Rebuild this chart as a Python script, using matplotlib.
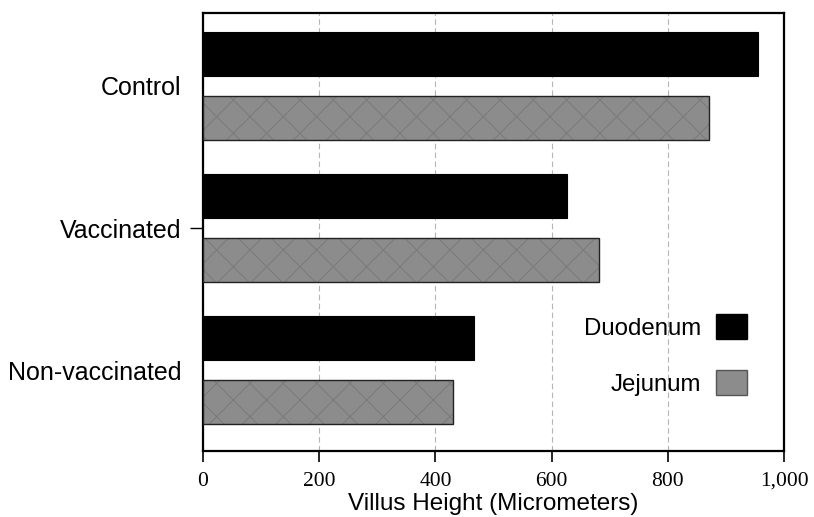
import matplotlib
matplotlib.use("Agg")
import matplotlib.pyplot as plt
from matplotlib.patches import Patch
import numpy as np

groups = ["Control", "Vaccinated", "Non-vaccinated"]
duodenum = [956, 626, 466]
jejunum = [871, 682, 431]
xticks = [0, 200, 400, 600, 800, 1000]
xticklabels = ["0", "200", "400", "600", "800", "1,000"]

SANS = ["Liberation Sans", "DejaVu Sans"]
SERIF = ["Liberation Serif", "DejaVu Serif"]

plt.rcParams["hatch.linewidth"] = 0.7

fig = plt.figure(figsize=(8.14, 5.17), dpi=100)
ax = fig.add_axes([203/814, 1-450.7/517, (784-203)/814, (450.7-12.7)/517])

y = np.arange(len(groups))
h = 0.31
off = 0.225
ax.barh(y - off, duodenum, height=h, color="black", edgecolor="black", lw=0.8, zorder=3)
ax.barh(y + off, jejunum, height=h, color="#8c8c8c", edgecolor="#7a7a7a", hatch="x", lw=0, zorder=3)
ax.barh(y + off, jejunum, height=h, color="none", edgecolor="#222222", lw=1.0, zorder=4)

ax.set_xlim(0, 1000)
ax.set_ylim(2.568, -0.516)
ax.set_xticks(xticks)
ax.set_xticklabels(xticklabels, family=SERIF, fontsize=15.5)
ax.set_yticks(y)
ax.set_yticklabels(groups, family=SANS, fontsize=18)
ax.tick_params(axis="x", direction="out", length=8, width=1.2, pad=7)
ax.tick_params(axis="y", direction="out", length=9.5, width=1.0, pad=6)
for i, t in enumerate(ax.yaxis.get_major_ticks()):
    if i != 1:
        t.tick1line.set_visible(False)

ax.grid(axis="x", color="#b5b5b5", lw=0.8, ls=(0, (5, 3)))
ax.set_axisbelow(True)
for s in ax.spines.values():
    s.set_linewidth(1.6)
    s.set_color("black")

ax.set_xlabel("Villus Height (Micrometers)", family=SANS, fontsize=17.5, labelpad=2)

handles = [Patch(facecolor="black", edgecolor="black", label="Duodenum"),
           Patch(facecolor="#8c8c8c", edgecolor="#555555", label="Jejunum")]
ax.legend(handles=handles, loc="center right", bbox_to_anchor=(0.936, 0.2185),
          markerfirst=False, frameon=False, prop={"family": SANS, "size": 17.3},
          handlelength=1.29, handleheight=1.21, labelspacing=1.25, handletextpad=0.6,
          borderpad=0, borderaxespad=0)

fig.savefig("out.png", dpi=100)
